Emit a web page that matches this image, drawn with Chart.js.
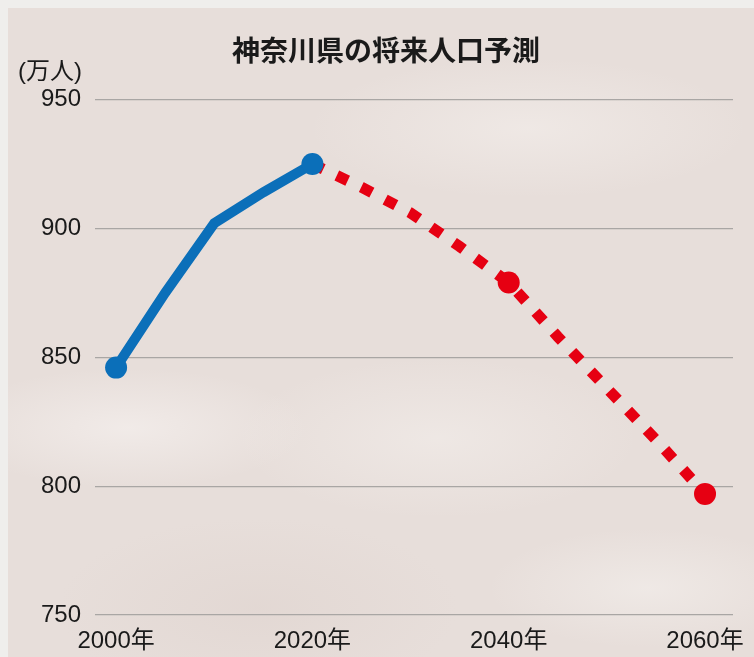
<!DOCTYPE html>
<html>
<head>
<meta charset="utf-8">
<script src="https://cdn.jsdelivr.net/npm/chart.js@4/dist/chart.umd.min.js"></script>
<style>
  html, body { margin: 0; padding: 0; background: #efeeec; }
  #wrap {
    position: absolute; left: 8px; top: 8px; width: 746px; height: 649px;
    background-color: #e7deda;
    background-image:
      radial-gradient(ellipse 180px 60px at 120px 420px, rgba(245,240,238,0.7), rgba(245,240,238,0)),
      radial-gradient(ellipse 220px 70px at 520px 120px, rgba(244,239,236,0.6), rgba(244,239,236,0)),
      radial-gradient(ellipse 200px 80px at 430px 430px, rgba(243,238,235,0.6), rgba(243,238,235,0)),
      radial-gradient(ellipse 160px 60px at 640px 580px, rgba(244,240,237,0.6), rgba(244,240,237,0)),
      radial-gradient(ellipse 200px 90px at 250px 600px, rgba(222,210,205,0.5), rgba(222,210,205,0));
  }
  canvas { display: block; }
</style>
</head>
<body>
<div id="wrap"><canvas id="chart" width="746" height="649"></canvas></div>
<script>
const tickYears = [2000, 2020, 2040, 2060];
const markedYears = [2000, 2020, 2040, 2060];

// 実績 (blue)
const actualYears = [2000, 2005, 2010, 2015, 2020];
const actualValues = [846, 875, 902, 914, 925];

// 推計 (red, dashed)
const forecastYears = [2020, 2025, 2030, 2035, 2040, 2045, 2050, 2055, 2060];
const forecastValues = [925, 916, 906, 893, 879, 858, 838, 818, 797];

const yTicks = [750, 800, 850, 900, 950];

const numFont = "'Liberation Sans', 'Noto Sans CJK JP', sans-serif";

const toPoints = (xs, ys) => xs.map((x, i) => ({ x: x, y: ys[i] }));

const unitLabel = {
  id: 'unitLabel',
  afterDraw(chart) {
    const ctx = chart.ctx;
    ctx.save();
    ctx.fillStyle = '#1a1a1a';
    ctx.font = "24px " + numFont;
    ctx.textAlign = 'left';
    ctx.textBaseline = 'middle';
    ctx.fillText('(万人)', 10, 64);
    ctx.restore();
  }
};

new Chart(document.getElementById('chart'), {
  type: 'line',
  data: {
    datasets: [
      {
        data: toPoints(actualYears, actualValues),
        borderColor: '#0b6fb9',
        backgroundColor: '#0b6fb9',
        borderWidth: 10,
        tension: 0,
        pointRadius: actualYears.map(y => markedYears.includes(y) ? 11 : 0),
        pointBorderWidth: 0,
        order: 1,
      },
      {
        data: toPoints(forecastYears, forecastValues),
        borderColor: '#e60012',
        backgroundColor: '#e60012',
        borderWidth: 11,
        borderDash: [12, 15],
        borderCapStyle: 'butt',
        tension: 0,
        pointRadius: forecastYears.map(y => (markedYears.includes(y) && y !== 2020) ? 11 : 0),
        pointBorderWidth: 0,
        order: 2,
      },
    ],
  },
  options: {
    responsive: false,
    animation: false,
    layout: { padding: { left: 31, right: 21, top: 0, bottom: 0 } },
    plugins: {
      legend: { display: false },
      tooltip: { enabled: false },
      title: {
        display: true,
        text: '神奈川県の将来人口予測',
        color: '#1a1a1a',
        font: { family: "'Noto Sans CJK JP', sans-serif", size: 28, weight: 'bold' },
        padding: { top: 26, bottom: 32 },
      },
    },
    scales: {
      x: {
        type: 'linear',
        min: 1997.85,
        max: 2062.85,
        afterBuildTicks: (s) => { s.ticks = tickYears.map(v => ({ value: v })); },
        afterFit: (s) => { s.height = 42; },
        grid: { display: false },
        border: { display: false },
        ticks: {
          color: '#1a1a1a',
          padding: 4,
          maxRotation: 0,
          font: { family: numFont, size: 24 },
          callback: (v) => v + '年',
        },
      },
      y: {
        min: 750,
        max: 950,
        afterBuildTicks: (s) => { s.ticks = yTicks.map(v => ({ value: v })); },
        afterFit: (s) => { s.width = 56; },
        grid: { color: '#a9a6a4', lineWidth: 1.3, drawTicks: false },
        border: { display: false },
        ticks: {
          color: '#1a1a1a',
          padding: 14,
          font: { family: numFont, size: 24 },
        },
      },
    },
  },
  plugins: [unitLabel],
});
</script>
</body>
</html>
